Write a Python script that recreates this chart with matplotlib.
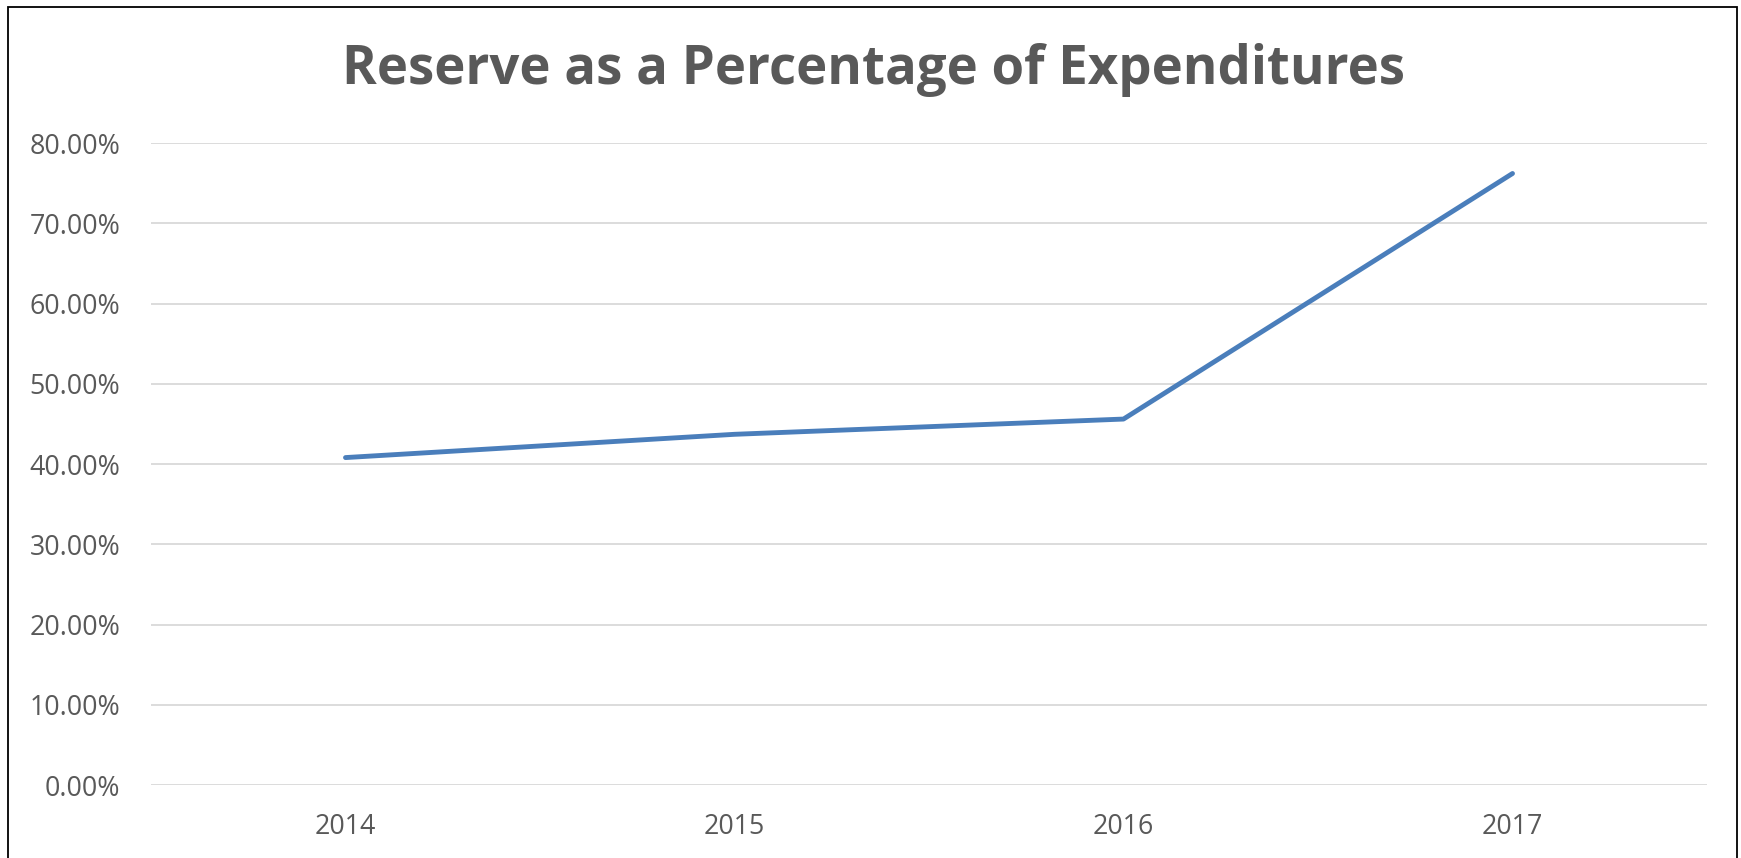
import matplotlib
matplotlib.use("Agg")
import matplotlib.pyplot as plt
from matplotlib.patches import Rectangle
from matplotlib.ticker import FuncFormatter

years = ['2014', '2015', '2016', '2017']
reserve_pct = [40.8, 43.7, 45.6, 76.2]
y_ticks = [0, 10, 20, 30, 40, 50, 60, 70, 80]

TEXT_GRAY = '#595959'

fig = plt.figure(figsize=(17.41, 8.58), dpi=100)
ax = fig.add_axes([151 / 1741, 1 - 785 / 858, (1707 - 151) / 1741, (785 - 143) / 858])

x = range(len(years))
ax.plot(x, reserve_pct, color='#4A7EBB', linewidth=3.5, solid_capstyle='round',
        solid_joinstyle='round', zorder=3)

ax.set_xlim(-0.5, len(years) - 0.5)
ax.set_ylim(0, 80)
ax.set_yticks(y_ticks)
ax.yaxis.set_major_formatter(FuncFormatter(lambda v, p: f'{v:.2f}%'))
ax.set_xticks(list(x))
ax.set_xticklabels(years)

ax.grid(axis='y', color='#D9D9D9', linewidth=1.3)
ax.set_axisbelow(True)
for s in ax.spines.values():
    s.set_visible(False)
ax.tick_params(length=0, labelsize=19.3, labelcolor=TEXT_GRAY)
ax.tick_params(axis='y', pad=22)
ax.tick_params(axis='x', pad=20)
for lbl in ax.get_xticklabels() + ax.get_yticklabels():
    lbl.set_fontfamily('Open Sans')

fig.text(873 / 1741, 1 - 70 / 858, 'Reserve as a Percentage of Expenditures',
         ha='center', va='center', fontsize=38, fontweight='bold',
         color=TEXT_GRAY, family='Open Sans')

# chart border, bottom edge runs off the image
fig.patches.append(Rectangle((8 / 1741, -0.05), (1737 - 8) / 1741, 1 - 7 / 858 + 0.05,
                             transform=fig.transFigure, fill=False,
                             edgecolor='black', linewidth=1.3))

fig.savefig('out.png', dpi=100)
